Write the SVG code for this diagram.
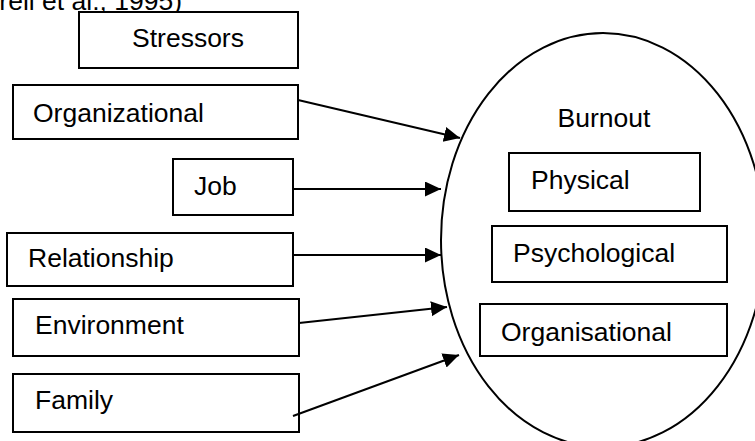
<svg xmlns="http://www.w3.org/2000/svg" width="755" height="441" viewBox="0 0 755 441">
  <style>
    .box { fill: #fff; stroke: #000; stroke-width: 2; }
    .lbl { font-family: "Liberation Sans", Arial, sans-serif; font-size: 26.5px; fill: #000; }
    .conn { stroke: #000; stroke-width: 2; fill: none; marker-end: url(#arrow); }
  </style>
  <defs>
    <marker id="arrow" markerUnits="userSpaceOnUse" markerWidth="18" markerHeight="16" refX="16" refY="7.5" orient="auto">
      <path d="M0,0 L16,7.5 L0,15 z" fill="#000"/>
    </marker>
  </defs>
  <rect width="755" height="441" fill="#fff"/>

  <!-- citation line, partly above the top edge -->
  <text class="lbl" x="182" y="10" text-anchor="end">(Farrell et al., 1995)</text>

  <!-- burnout ellipse -->
  <g id="burnout">
    <ellipse cx="603" cy="240" rx="162" ry="207" fill="#fff" stroke="#000" stroke-width="2"/>
    <text class="lbl" x="604" y="127" text-anchor="middle">Burnout</text>
  </g>

  <g id="stressors">
    <rect class="box" x="79" y="12" width="219" height="56"/>
    <text class="lbl" x="188" y="47" text-anchor="middle">Stressors</text>
  </g>
  <g id="organizational">
    <rect class="box" x="13" y="85" width="285" height="54"/>
    <text class="lbl" x="33" y="122">Organizational</text>
  </g>
  <g id="job">
    <rect class="box" x="173" y="159" width="120" height="56"/>
    <text class="lbl" x="194" y="195">Job</text>
  </g>
  <g id="relationship">
    <rect class="box" x="7" y="233" width="286" height="53"/>
    <text class="lbl" x="28" y="267">Relationship</text>
  </g>
  <g id="environment">
    <rect class="box" x="13" y="299" width="286" height="57"/>
    <text class="lbl" x="35" y="334">Environment</text>
  </g>
  <g id="family">
    <rect class="box" x="13" y="374" width="286" height="58"/>
    <text class="lbl" x="35" y="409">Family</text>
  </g>

  <g id="physical">
    <rect class="box" x="509" y="153" width="191" height="58"/>
    <text class="lbl" x="531" y="189">Physical</text>
  </g>
  <g id="psychological">
    <rect class="box" x="492" y="226" width="235" height="56"/>
    <text class="lbl" x="513" y="262">Psychological</text>
  </g>
  <g id="organisational">
    <rect class="box" x="480" y="304" width="247" height="52"/>
    <text class="lbl" x="501" y="341">Organisational</text>
  </g>

  <g id="connectors">
    <line class="conn" x1="298" y1="100" x2="460" y2="138"/>
    <line class="conn" x1="293" y1="189" x2="441" y2="189"/>
    <line class="conn" x1="293" y1="255" x2="441" y2="255"/>
    <line class="conn" x1="299" y1="323" x2="447" y2="307"/>
    <line class="conn" x1="293" y1="416" x2="459" y2="355"/>
  </g>
</svg>
